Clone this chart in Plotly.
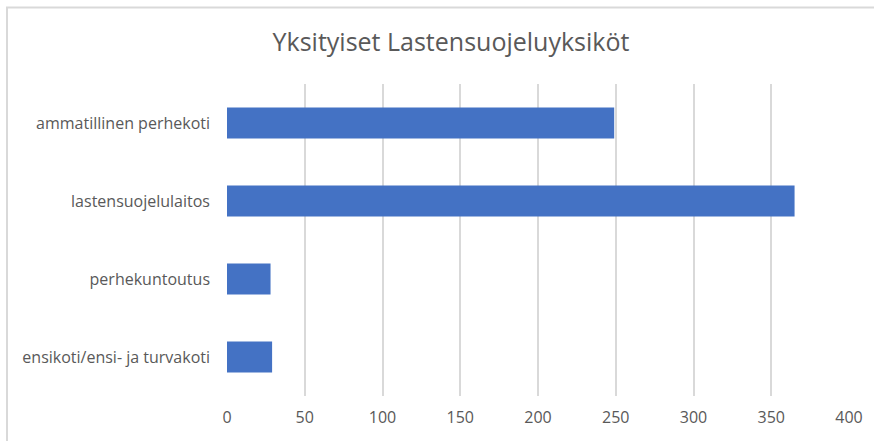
import plotly.graph_objects as go

categories = ["ensikoti/ensi- ja turvakoti", "perhekuntoutus", "lastensuojelulaitos", "ammatillinen perhekoti"]
values = [29, 28, 365, 249]
x_ticks = [0, 50, 100, 150, 200, 250, 300, 350, 400]
title_text = "Yksityiset Lastensuojeluyksiköt"

W, H = 874, 441
L, R, T, B = 227, 25, 84, 45
pw, ph = W - L - R, H - T - B

def px2paper_x(px):
    return (px - L) / pw

def py2paper_y(py):
    return (H - B - py) / ph

fig = go.Figure()
fig.add_trace(go.Bar(
    y=categories, x=values, orientation="h",
    marker=dict(color="#4472C4", line=dict(width=0)),
    width=0.4,
))

font_family = "Open Sans, Noto Sans, sans-serif"
fig.update_layout(
    width=W, height=H,
    margin=dict(l=L, r=R, t=T, b=B, autoexpand=False),
    paper_bgcolor="white", plot_bgcolor="white",
    showlegend=False,
    title=dict(text=title_text, x=451 / W, xanchor="center", y=1 - 42 / H, yanchor="middle",
               font=dict(family=font_family, size=25, color="#595959")),
    xaxis=dict(range=[0, 400], tickvals=x_ticks, showgrid=True, gridcolor="#D9D9D9", gridwidth=1.5,
               zeroline=False, showline=False, ticks="",
               tickfont=dict(family=font_family, size=16, color="#595959"),
               ticklabelstandoff=10, fixedrange=True),
    yaxis=dict(categoryorder="array", categoryarray=categories, showgrid=False, zeroline=False,
               showline=False, ticks="", ticklabelstandoff=16,
               tickfont=dict(family=font_family, size=16, color="#595959"), fixedrange=True),
    shapes=[dict(type="rect", xref="paper", yref="paper",
                 x0=px2paper_x(7), x1=px2paper_x(W + 20),
                 y0=py2paper_y(H + 20), y1=py2paper_y(7.5),
                 line=dict(color="#D9D9D9", width=2), fillcolor="rgba(0,0,0,0)", layer="below")],
)
fig.write_html("out.html", config={"displayModeBar": False},
               post_script="document.body.style.margin='0';document.body.style.overflow='hidden';")
